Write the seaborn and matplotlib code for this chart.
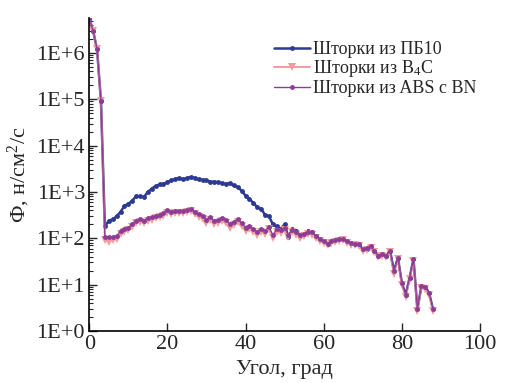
import numpy as np
import pandas as pd
import matplotlib
matplotlib.use("Agg")
import matplotlib.pyplot as plt
from matplotlib.ticker import FuncFormatter, LogLocator, MultipleLocator
import seaborn as sns

# angle, degrees
angle = list(range(0, 89))

# shutters from PB10
pb10 = [5.5e6, 3.0e6, 1.2e6, 9.0e4, 180, 240, 255, 300, 370, 500,
        550, 650, 810, 810, 780, 1000, 1180, 1350, 1450, 1480,
        1620, 1780, 1900, 2000, 1860, 2000, 2090, 2000, 1860, 1820,
        1780, 1660, 1660, 1620, 1550, 1480, 1550, 1380, 1260, 1070,
        830, 710, 580, 470, 430, 320, 300, 200, 180, 160,
        200, 105, 160, 145, 112, 123, 145, 138, 110, 95,
        87, 74, 87, 91, 95, 98, 87, 78, 74, 74,
        58, 60, 68, 54, 42, 46, 42, 54, 19.5, 38,
        11, 6.0, 14, 36, 2.9, 9.1, 8.9, 6.6, 2.9]

# shutters from B4C
b4c = [5.5e6, 3.0e6, 1.2e6, 9.0e4, 90, 85, 92, 95, 125, 140,
       150, 175, 215, 230, 215, 240, 250, 270, 285, 310,
       360, 335, 350, 345, 350, 365, 390, 330, 290, 265,
       215, 245, 205, 215, 235, 210, 165, 190, 220, 180,
       145, 160, 140, 118, 140, 125, 155, 100, 140, 130,
       150, 105, 135, 120, 100, 110, 125, 120, 100, 88,
       80, 70, 80, 85, 88, 90, 80, 72, 70, 68,
       54, 57, 62, 50, 39, 42, 39, 50, 17, 35,
       10, 5.5, 13, 33, 2.7, 8.5, 8.2, 6.0, 2.7]

# shutters from ABS with BN
abs_bn = [5.5e6, 3.0e6, 1.2e6, 9.0e4, 105, 104, 106, 110, 145, 158,
          170, 200, 240, 257, 240, 269, 282, 302, 316, 347,
          407, 372, 389, 380, 389, 407, 427, 372, 331, 302,
          251, 282, 240, 251, 269, 251, 200, 224, 257, 214,
          170, 186, 158, 138, 158, 145, 178, 117, 158, 150,
          165, 120, 150, 135, 115, 125, 140, 135, 112, 97,
          88, 76, 88, 92, 96, 98, 88, 78, 75, 74,
          58, 62, 68, 54, 42, 46, 42, 54, 19.5, 38,
          11, 6.0, 14, 36, 2.9, 9.1, 8.9, 6.6, 2.9]

labels = ["Шторки из ПБ10", "Шторки из B$_4$C", "Шторки из ABS с BN"]
y_ticks = [1e0, 1e1, 1e2, 1e3, 1e4, 1e5, 1e6]

df = pd.DataFrame({"angle": angle, "pb10": pb10, "b4c": b4c, "abs_bn": abs_bn})

sns.set_style("ticks")
plt.rcParams["font.family"] = ["Liberation Serif", "DejaVu Serif"]
plt.rcParams["mathtext.fontset"] = "custom"
plt.rcParams["mathtext.rm"] = "Liberation Serif"
plt.rcParams["mathtext.it"] = "Liberation Serif:italic"

fig = plt.figure(figsize=(5.1, 3.83), dpi=100)
ax = fig.add_axes([0.175, 0.136, 0.766, 0.817])

sns.lineplot(data=df, x="angle", y="pb10", ax=ax, color="#2c3a94", lw=1.8,
             marker="o", markersize=3.5, markeredgewidth=0, label=labels[0])
sns.lineplot(data=df, x="angle", y="b4c", ax=ax, color="#f59a9a", lw=1.4,
             marker="v", markersize=5.5, markeredgewidth=0, label=labels[1])
sns.lineplot(data=df, x="angle", y="abs_bn", ax=ax, color="#8b3d97", lw=1.0,
             marker="o", markersize=3.5, markeredgewidth=0, label=labels[2])

ax.set_yscale("log")
ax.set_xlim(0, 100)
ax.set_ylim(1, 5.7e6)
ax.xaxis.set_major_locator(MultipleLocator(20))
ax.set_yticks(y_ticks)
ax.yaxis.set_minor_locator(LogLocator(base=10, subs=np.arange(2, 10), numticks=20))
ax.yaxis.set_major_formatter(FuncFormatter(lambda v, p: "1E+%d" % round(np.log10(v))))
ax.tick_params(which="major", direction="in", length=6, width=1, labelsize=16, pad=3)
ax.tick_params(which="minor", direction="in", length=3, width=0.8)
ax.tick_params(axis="x", which="minor", length=0)

for s in ["top", "right"]:
    ax.spines[s].set_visible(False)
for s in ["left", "bottom"]:
    ax.spines[s].set_linewidth(1.2)
    ax.spines[s].set_color("black")

ax.set_xlabel("Угол, град", fontsize=16, labelpad=4)
ax.set_ylabel("Ф, н/см$^2$/с", fontsize=16, labelpad=3)

ax.legend(loc="upper left", bbox_to_anchor=(0.45, 0.955), frameon=False,
          fontsize=13, handlelength=2.0, handletextpad=0.15,
          labelspacing=0.02, borderpad=0)

fig.savefig("out.png", dpi=100)
